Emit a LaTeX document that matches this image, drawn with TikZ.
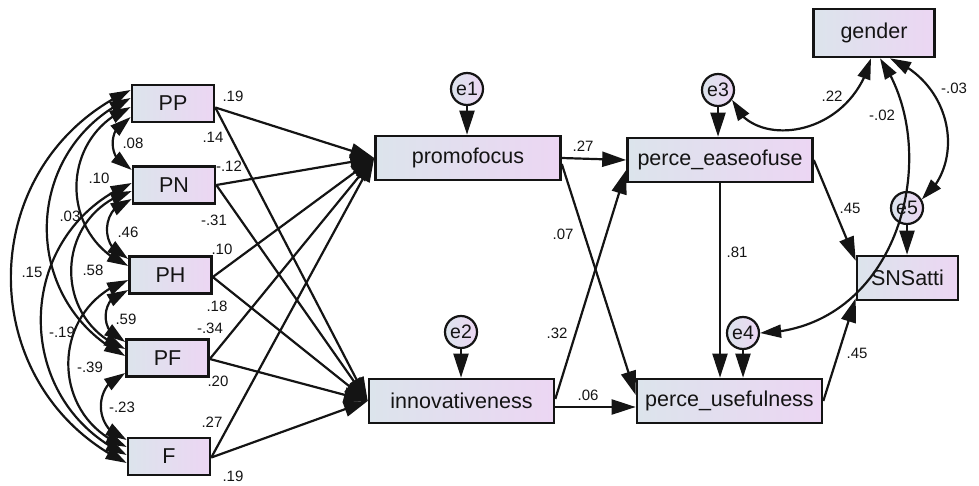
\documentclass[tikz,border=0pt]{standalone}
\usepackage{fontspec}
\setmainfont{Liberation Sans}
\usetikzlibrary{arrows.meta,calc,bending}
\definecolor{boxL}{RGB}{220,228,236}
\definecolor{boxR}{RGB}{236,214,243}
\definecolor{ink}{RGB}{20,20,20}
\begin{document}
\begin{tikzpicture}[x=1pt,y=-1pt,
  box/.style={draw=ink, line width=2.6pt, left color=boxL, right color=boxR, inner sep=0pt,
    font=\fontsize{21.5}{24}\selectfont, text=ink},
  exo/.style={box, minimum width=82pt, minimum height=37pt},
  endo/.style={box, minimum width=185pt, minimum height=44pt},
  err/.style={circle, draw=ink, line width=2.2pt, left color=boxL, right color=boxR,
    minimum size=32pt, inner sep=0pt, font=\fontsize{19.5}{22}\selectfont, text=ink},
  lab/.style={font=\fontsize{15}{17}\selectfont, text=ink, inner sep=0pt},
  reg/.style={draw=ink, line width=2.2pt, -{Triangle[length=24pt,width=15pt]}},
  cov/.style={draw=ink, line width=2.2pt, {Triangle[length=21pt,width=13pt]}-{Triangle[length=21pt,width=13pt]}},
]
\useasboundingbox (0,0) rectangle (979,486);

% exogenous boxes
\node[exo] (PP) at (173,103.5) {PP};
\node[exo] (PN) at (174,185) {PN};
\node[exo] (PH) at (170.5,275) {PH};
\node[exo] (PF) at (167.5,358) {PF};
\node[exo] (F)  at (169,456.5) {F};

% endogenous boxes
\node[endo] (promo) at (468,158) {promofocus};
\node[endo] (innov) at (461.5,401) {innovativeness};
\node[endo] (pe) at (720,160) {perce\_easeofuse};
\node[endo] (pu) at (729.5,401) {perce\_usefulness};
\node[box, minimum width=121pt, minimum height=48pt] (gender) at (874,33) {gender};
\node[box, minimum width=101pt, minimum height=44pt] (SN) at (907.5,278) {SNSatti};

% error terms
\node[err] (e1) at (467,89) {e1};
\node[err] (e2) at (461,332) {e2};
\node[err] (e3) at (718,90) {e3};
\node[err] (e4) at (743,333) {e4};
\node[err] (e5) at (907,208) {e5};

% regression paths from exogenous
\foreach \s/\d in {PP/4,PN/0,PH/2,PF/1,F/1}{
  \draw[reg] ($(\s.east)+(0,\d)$) -- (promo.west);
  \draw[reg] ($(\s.east)+(0,\d)$) -- (innov.west);
}

% error arrows
\draw[reg] (e1) -- (e1 |- promo.north);
\draw[reg] (e2) -- (e2 |- innov.north);
\draw[reg] (e3) -- (e3 |- pe.north);
\draw[reg] (e4) -- (e4 |- pu.north);
\draw[reg] (e5) -- (e5 |- SN.north);

% structural paths
\draw[reg] (promo.east) -- (pe.west);
\draw[reg] ($(promo.east)+(0,6)$) -- ($(pu.west)+(0,-6)$);
\draw[reg] ($(innov.east)+(0,-2)$) -- ($(pe.west)+(0,10)$);
\draw[reg] ($(innov.east)+(0,6)$) -- ($(pu.west)+(0,6)$);
\draw[reg] (pe.south) -- (pe.south |- pu.north);
\draw[reg] (pe.east) -- ($(SN.north west)+(0,6)$);
\draw[reg] (pu.east) -- ($(SN.south west)+(0,-3)$);

% covariances among exogenous
\draw[cov] ($(PP.west)+(0,13.5)$) to[bend right=69.8, looseness=1.27] ($(PN.west)+(0,-15)$);
\draw[cov] ($(PN.west)+(0,14)$) to[bend right=75, looseness=1.35] ($(PH.west)+(0,-16)$);
\draw[cov] ($(PH.west)+(0,15)$) to[bend right=77.9, looseness=1.41] ($(PF.west)+(0,-16)$);
\draw[cov] ($(PF.west)+(0,15)$) to[bend right=73.4, looseness=1.33] ($(F.west)+(0,-16.5)$);
\draw[cov] ($(PP.west)+(0,3.5)$) to[bend right=67.4, looseness=1.23] ($(PH.west)+(0,-9)$);
\draw[cov] ($(PN.west)+(0,6)$) to[bend right=71.7, looseness=1.30] ($(PF.west)+(0,-9)$);
\draw[cov] ($(PH.west)+(0,5)$) to[bend right=70.5, looseness=1.28] ($(F.west)+(0,-9.5)$);
\draw[cov] ($(PP.west)+(0,-5.5)$) to[bend right=64.2, looseness=1.19] ($(PF.west)+(0,-2)$);
\draw[cov] ($(PN.west)+(0,-2)$) to[bend right=66.2, looseness=1.21] ($(F.west)+(0,-1.5)$);
\draw[cov] ($(PP.west)+(0,-13.5)$) to[bend right=64.7, looseness=1.19] ($(F.west)+(0,6.5)$);

% covariances on the right
\draw[cov] (e3.-35) .. controls (750,150) and (850,140) .. ($(gender.south)+(-3,0)$);
\draw[cov] ($(gender.south)+(6,0)$) .. controls (945,150) and (900,330) .. (e4.east);
\draw[cov] ($(gender.south)+(16,0)$) .. controls (955,85) and (965,165) .. (e5.30);

% labels left (regression weights)
\node[lab] (w1) at (233,96) {.19};
\node[lab] (w2) at (213,137) {.14};
\node[lab] (w3) at (229,166) {-.12};
\node[lab] (w4) at (214,220) {-.31};
\node[lab] (w5) at (222,249) {.10};
\node[lab] (w6) at (217,306) {.18};
\node[lab] (w7) at (210,328) {-.34};
\node[lab] (w8) at (218,381) {.20};
\node[lab] (w9) at (212,422) {.27};
\node[lab] (w10) at (233,476) {.19};

% labels left (covariances)
\node[lab] (c1) at (133,143) {.08};
\node[lab] (c2) at (99,178) {.10};
\node[lab] (c3) at (70,216) {.03};
\node[lab] (c4) at (128,232) {.46};
\node[lab] (c5) at (32,272) {.15};
\node[lab] (c6) at (93,270) {.58};
\node[lab] (c7) at (126,319) {.59};
\node[lab] (c8) at (62,332) {-.19};
\node[lab] (c9) at (90,367) {-.39};
\node[lab] (c10) at (122,407) {-.23};

% labels right
\node[lab] (r1) at (583,146) {.27};
\node[lab] (r2) at (563,234) {.07};
\node[lab] (r3) at (557,333) {.32};
\node[lab] (r4) at (588,395) {.06};
\node[lab] (r5) at (737,252) {.81};
\node[lab] (r6) at (850,208) {.45};
\node[lab] (r7) at (857,353) {.45};
\node[lab] (r8) at (832,96) {.22};
\node[lab] (r9) at (882,115) {-.02};
\node[lab] (r10) at (954,88) {-.03};
\end{tikzpicture}
\end{document}
